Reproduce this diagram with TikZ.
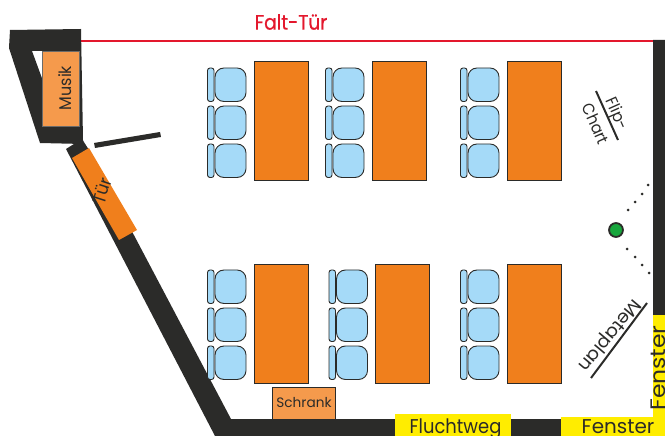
\documentclass[tikz,border=0pt]{standalone}
\usepackage{fontspec}
\setmainfont{Poppins}
\newfontfamily\faltfont[FakeBold=0.5]{Poppins}
\definecolor{wall}{HTML}{2B2B29}
\definecolor{desk}{HTML}{F07F1C}
\definecolor{light}{HTML}{F59A4C}
\definecolor{seat}{HTML}{A5DAF8}
\definecolor{redline}{HTML}{E3182D}
\definecolor{yel}{HTML}{FFED00}
\definecolor{dotgreen}{HTML}{17A63C}
\tikzset{
 deskbox/.style={draw=wall,line width=0.7pt,fill=desk},
 seatbox/.style={draw=wall,line width=0.9pt,fill=seat,rounded corners=9},
 backbox/.style={draw=wall,line width=0.9pt,fill=seat,rounded corners=2.5},
 lab/.style={text=wall,inner sep=0pt},
 wallfill/.style={fill=wall,draw=none},
 tinydot/.style={circle,fill=wall,inner sep=0pt,minimum size=3}
}
\newcommand{\chairs}[3]{% back x, seat x, top y offset
 \foreach \yy in {0,38,76}{
  \draw[backbox] (#1,#3+\yy) rectangle (#1+6.5,#3+\yy+33.5);
  \draw[seatbox] (#2,#3+\yy) rectangle (#2+31,#3+\yy+33.5);
 }}
\begin{document}
\begin{tikzpicture}[x=1bp,y=-1bp]
\useasboundingbox (0,0) rectangle (665,436);
% red folding door
\coordinate (ra) at (81,41);
\coordinate (rb) at (655,41);
\draw[redline,line width=2.2pt] (ra) -- (rb);
\node[text=redline,inner sep=0pt,font=\faltfont\fontsize{21}{21}\selectfont,xscale=.89] (falt) at (291,22) {Falt-Tür};
% walls
\fill[wallfill,even odd rule] (10,30) -- (81,29) -- (83,140) -- (83,144) -- (40,143) -- (9,48) -- (10,30) -- cycle
  (32,51) -- (43,51) -- (43,81) -- cycle;
\fill[wallfill] (66,149) -- (82,139) -- (89,150) -- (231,419) -- (653,419) -- (653,40) -- (665,40) -- (665,436) -- (215,436) -- cycle;
% windows and escape route
\fill[yel] (653,315) rectangle (665,436);
\fill[yel] (561,417) rectangle (665,436);
\fill[yel] (395,414) rectangle (511,436);
% inner door leaf
\fill[wall] (94,143) -- (160,132) -- (161,137) -- (95,148) -- cycle;
% Musik
\node[draw=wall!70,line width=.6pt,fill=light,minimum width=37,minimum height=75,inner sep=0pt] (musik) at (60.5,88.5) {};
\node[lab,rotate=90,font=\fontsize{17}{17}\selectfont,xscale=.94] (musiklab) at (65.5,88) {Musik};
% Tuer
\fill[desk] (72,158) -- (89,148) -- (137,230) -- (119,240) -- cycle;
\node[lab,rotate=72,font=\fontsize{18}{18}\selectfont,xscale=.95] (tuer) at (102,191) {Tür};
% desks
\foreach \xa/\ya in {254/61,372/61,507/61,254/264,375/264,507/264}{
 \draw[deskbox] (\xa,\ya) rectangle +(54,119.5);
}
\chairs{207.5}{215}{68}
\chairs{325.5}{333}{68}
\chairs{460.5}{468}{68}
\chairs{207.5}{215}{270}
\chairs{329}{336.5}{270}
\chairs{460.5}{468}{270}
% Schrank
\node[draw=wall,line width=.8pt,fill=light,minimum width=64,minimum height=32,inner sep=0pt,text=wall,font=\fontsize{13.7}{13.7}\selectfont] (schrank) at (304,403) {Schrank};
% Flip chart
\coordinate (fa) at (596,91);
\coordinate (fb) at (618,140);
\draw[wall,line width=2pt] (fa) -- (fb);
\node[lab,rotate=-66,font=\fontsize{16.5}{16.5}\selectfont,xscale=.92] (flip) at (616,114) {Flip-};
\node[lab,rotate=-66,font=\fontsize{16.5}{16.5}\selectfont,xscale=.92] (chart) at (596,124) {Chart};
% Metaplan
\coordinate (ma) at (591,378);
\coordinate (mb) at (647,303);
\draw[wall,line width=2pt] (ma) -- (mb);
\node[lab,rotate=-130,font=\fontsize{18}{18}\selectfont,xscale=1.03] (meta) at (609,335) {Metaplan};
% Presenter and dots
\node[circle,draw=wall,line width=1.8pt,fill=dotgreen,minimum size=14,inner sep=0pt] (pres) at (616,230) {};
\foreach \px/\py [count=\i] in {648/185,642/194,635/202,628/210,627/249,635/257,642/265,649/273}{
 \node[tinydot] (d\i) at (\px,\py) {};
}
% yellow labels
\node[lab,anchor=base,font=\fontsize{20}{20}\selectfont,xscale=.9] (flucht) at (455.5,433) {Fluchtweg};
\node[lab,anchor=base,font=\fontsize{20}{20}\selectfont] (fen) at (618,433) {Fenster};
\node[lab,anchor=base,rotate=90,font=\fontsize{21}{21}\selectfont,xscale=1.12] (fenv) at (665,368) {Fenster};
\end{tikzpicture}
\end{document}
